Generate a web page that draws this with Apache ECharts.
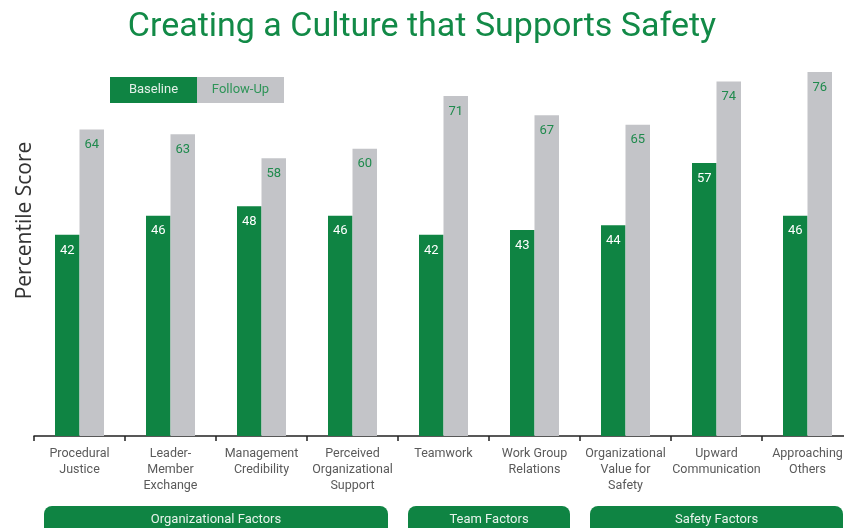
<!DOCTYPE html>
<html>
<head>
<meta charset="utf-8">
<script src="https://cdn.jsdelivr.net/npm/echarts@6/dist/echarts.min.js"></script>
<style>html,body{margin:0;padding:0;background:#fff;}#c{width:844px;height:528px;}</style>
</head>
<body>
<div id="c"></div>
<script>
const categories = ['Procedural\nJustice', 'Leader-\nMember\nExchange', 'Management\nCredibility', 'Perceived\nOrganizational\nSupport', 'Teamwork', 'Work Group\nRelations', 'Organizational\nValue for\nSafety', 'Upward\nCommunication', 'Approaching\nOthers'];
const baseline = [42, 46, 48, 46, 42, 43, 44, 57, 46];
const followUp = [64, 63, 58, 60, 71, 67, 65, 74, 76];
const groupNames = ['Organizational Factors', 'Team Factors', 'Safety Factors'];
const groupStart = [0, 4, 6];
const groupEnd = [3, 5, 8];

const GREEN = '#0f8443';
const GRAY = '#c3c4c8';
const chart = echarts.init(document.getElementById('c'));
const option = {
  animation: false,
  title: {
    text: 'Creating a Culture that Supports Safety',
    left: 'center', top: 5,
    textStyle: { color: '#128a47', fontFamily: 'Roboto', fontWeight: 'normal', fontSize: 34 }
  },
  legend: {
    left: 100, top: 72, itemGap: -5, itemWidth: 0, itemHeight: 0,
    selectedMode: false,
    formatter: function (name) { return name === 'Baseline' ? '{b|' + name + '}' : '{f|' + name + '}'; },
    textStyle: {
      fontFamily: 'Roboto', fontSize: 13,
      rich: {
        b: { width: 87, height: 26, lineHeight: 26, align: 'center', backgroundColor: GREEN, color: '#e3f0e8', fontFamily: 'Roboto', fontSize: 13 },
        f: { width: 87, height: 26, lineHeight: 26, align: 'center', backgroundColor: GRAY, color: '#2e9458', fontFamily: 'Roboto', fontSize: 13 }
      }
    },
    data: ['Baseline', 'Follow-Up']
  },
  grid: { left: 34, top: 5, width: 819, bottom: 92, outerBoundsMode: 'none', containLabel: false },
  xAxis: {
    type: 'category', data: categories,
    axisLine: { lineStyle: { color: '#222', width: 1.5 } },
    axisTick: { show: true, length: 5, lineStyle: { color: '#222', width: 1.5 } },
    axisLabel: { interval: 0, color: '#5a5a5a', fontFamily: 'Roboto', fontSize: 12.5, lineHeight: 16, margin: 10 }
  },
  yAxis: {
    type: 'value', min: 0, max: 90,
    name: 'Percentile Score', nameLocation: 'middle', nameGap: -2,
    nameTextStyle: { color: '#333', fontFamily: 'Open Sans', fontSize: 21 },
    axisLine: { show: false }, axisTick: { show: false }, axisLabel: { show: false }, splitLine: { show: false }
  },
  series: [
    {
      name: 'Baseline', type: 'bar', data: baseline, barWidth: 24.5, barGap: '0%',
      itemStyle: { color: GREEN },
      label: { show: true, position: 'insideTop', distance: 9, color: '#fff', fontFamily: 'Roboto', fontSize: 13 }
    },
    {
      name: 'Follow-Up', type: 'bar', data: followUp, barWidth: 24.5,
      itemStyle: { color: GRAY },
      label: { show: true, position: 'insideTop', distance: 9, color: '#1f8a4d', fontFamily: 'Roboto', fontSize: 13 }
    }
  ]
};
chart.setOption(option);

const c0 = chart.convertToPixel({ xAxisIndex: 0 }, 0);
const c1 = chart.convertToPixel({ xAxisIndex: 0 }, 1);
const band = c1 - c0;
const graphics = groupNames.map((name, i) => {
  const x0 = chart.convertToPixel({ xAxisIndex: 0 }, groupStart[i]) - band / 2 + 10;
  const x1 = chart.convertToPixel({ xAxisIndex: 0 }, groupEnd[i]) + band / 2 - 10;
  return {
    type: 'group', children: [
      { type: 'rect', shape: { x: x0, y: 506, width: x1 - x0, height: 34, r: 8 }, style: { fill: GREEN } },
      { type: 'text', x: (x0 + x1) / 2, y: 520, style: { text: name, fill: '#e8f3ec', font: '13px Roboto', align: 'center', verticalAlign: 'middle' } }
    ]
  };
});
chart.setOption({ graphic: graphics });
</script>
</body>
</html>
